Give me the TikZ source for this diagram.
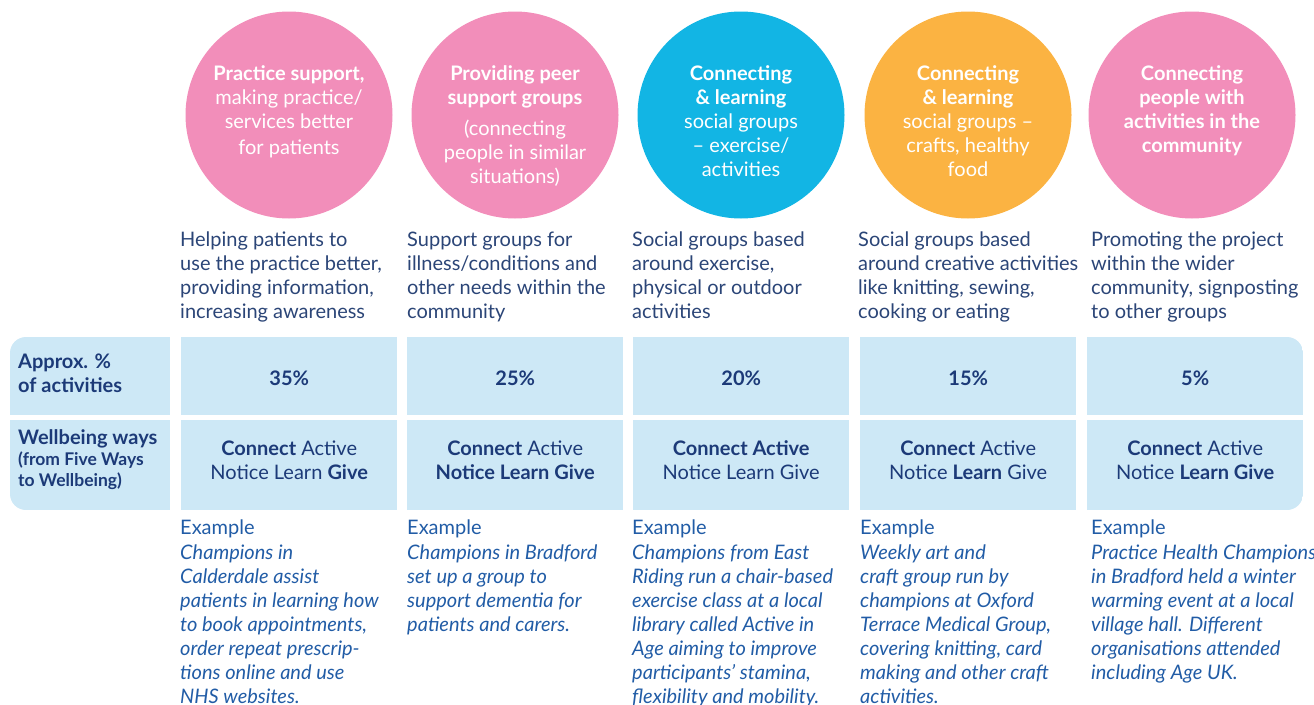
\documentclass[tikz,border=0pt]{standalone}
\usepackage{fontspec}
\setmainfont{Lato}
\definecolor{bubblepink}{HTML}{F28EBA}
\definecolor{bubblecyan}{HTML}{12B5E4}
\definecolor{bubbleorange}{HTML}{FBB342}
\definecolor{cellblue}{HTML}{CDE8F6}
\definecolor{navy}{HTML}{1C3A78}
\definecolor{slateblue}{HTML}{2B4577}
\definecolor{exampleblue}{HTML}{215CA6}
\newcommand{\bodysize}{\fontsize{20}{24}\selectfont}
\newcommand{\subsize}{\fontsize{17.5}{21}\selectfont}

\begin{document}
\begin{tikzpicture}[x=1pt, y=-1pt,
    bubble/.style={circle, minimum size=207pt, inner sep=0pt},
    bubbletext/.style={anchor=north, inner sep=0pt, align=center, text=white, font=\bodysize},
    desc/.style={anchor=north west, inner sep=0pt, align=left, text=slateblue, font=\bodysize},
    cell/.style={anchor=north west, fill=cellblue, minimum width=216pt, inner sep=0pt},
    rowlabel/.style={anchor=north west, inner sep=0pt, align=left, text=navy, font=\bodysize\bfseries},
    celltext/.style={inner sep=0pt, align=center, text=navy, font=\bodysize},
    exhead/.style={anchor=north west, inner sep=0pt, text=exampleblue, font=\bodysize},
    exbody/.style={anchor=north west, inner sep=0pt, align=left, text=exampleblue, font=\bodysize\itshape}]
    \useasboundingbox (0,0) rectangle (1314,704);

    % Bubbles
    \node[bubble, fill=bubblepink] (c1) at (289,115) {};
    \node[bubble, fill=bubblepink] (c2) at (515,115) {};
    \node[bubble, fill=bubblecyan] (c3) at (741,115) {};
    \node[bubble, fill=bubbleorange] (c4) at (968,115) {};
    \node[bubble, fill=bubblepink] (c5) at (1192,115) {};
    \node[bubbletext] (c1txt) at (289,65) {\textbf{Practice support,}\\ making practice/\\ services better\\[2pt] for patients};
    \node[bubbletext] (c2txt) at (515,65) {\textbf{Providing peer}\\ \textbf{support groups}\\[7pt] (connecting\\ people in similar\\ situations)};
    \node[bubbletext] (c3txt) at (741,65) {\textbf{Connecting}\\ \textbf{\& learning}\\ social groups\\ -- exercise/\\ activities};
    \node[bubbletext] (c4txt) at (968,65) {\textbf{Connecting}\\ \textbf{\& learning}\\ social groups --\\ crafts, healthy\\ food};
    \node[bubbletext] (c5txt) at (1192,65) {\textbf{Connecting}\\ \textbf{people with}\\ \textbf{activities in the}\\ \textbf{community}};

    % Descriptions
    \node[desc] (d1) at (180,232) {Helping patients to\\ use the practice better,\\ providing information,\\ increasing awareness};
    \node[desc] (d2) at (407,232) {Support groups for\\ illness/conditions and\\ other needs within the\\ community};
    \node[desc] (d3) at (632,232) {Social groups based\\ around exercise,\\ physical or outdoor\\ activities};
    \node[desc] (d4) at (858,232) {Social groups based\\ around creative activities\\ like knitting, sewing,\\ cooking or eating};
    \node[desc] (d5) at (1091,232) {Promoting the project\\ within the wider\\ community, signposting\\ to other groups};

    % Table cells
    \begin{scope}
        \clip[rounded corners=16pt] (10,337) rectangle (1303,510);
        \node[cell, minimum width=160pt, minimum height=78pt] (p0) at (10,337) {};
        \node[cell, minimum height=78pt] (p1) at (181,337) {};
        \node[cell, minimum height=78pt] (p2) at (407,337) {};
        \node[cell, minimum height=78pt] (p3) at (633,337) {};
        \node[cell, minimum height=78pt] (p4) at (860,337) {};
        \node[cell, minimum height=78pt] (p5) at (1087,337) {};
        \node[cell, minimum width=160pt, minimum height=90pt] (w0) at (10,420) {};
        \node[cell, minimum height=90pt] (w1) at (181,420) {};
        \node[cell, minimum height=90pt] (w2) at (407,420) {};
        \node[cell, minimum height=90pt] (w3) at (633,420) {};
        \node[cell, minimum height=90pt] (w4) at (860,420) {};
        \node[cell, minimum height=90pt] (w5) at (1087,420) {};
    \end{scope}

    % Table texts
    \node[rowlabel] (p0txt) at (18,354) {Approx. \%\\ of activities};
    \node[rowlabel] (w0txt) at (18,429) {Wellbeing ways\\[-3pt] {\subsize (from Five Ways}\\[-3pt] {\subsize to Wellbeing)}};
    \node[celltext, font=\bodysize\bfseries, yshift=-2pt] (p1txt) at (p1) {35\%};
    \node[celltext, font=\bodysize\bfseries, yshift=-2pt] (p2txt) at (p2) {25\%};
    \node[celltext, font=\bodysize\bfseries, yshift=-2pt] (p3txt) at (p3) {20\%};
    \node[celltext, font=\bodysize\bfseries, yshift=-2pt] (p4txt) at (p4) {15\%};
    \node[celltext, font=\bodysize\bfseries, yshift=-2pt] (p5txt) at (p5) {5\%};
    \node[celltext, yshift=5pt] (w1txt) at (w1) {\textbf{Connect} Active\\ Notice Learn \textbf{Give}};
    \node[celltext, yshift=5pt] (w2txt) at (w2) {\textbf{Connect} Active\\ \textbf{Notice Learn Give}};
    \node[celltext, yshift=5pt] (w3txt) at (w3) {\textbf{Connect Active}\\ Notice Learn Give};
    \node[celltext, yshift=5pt] (w4txt) at (w4) {\textbf{Connect} Active\\ Notice \textbf{Learn} Give};
    \node[celltext, yshift=5pt] (w5txt) at (w5) {\textbf{Connect} Active\\ Notice \textbf{Learn Give}};

    % Examples
    \node[exhead] (e1) at (180,520) {Example};
    \node[exhead] (e2) at (407,520) {Example};
    \node[exhead] (e3) at (632,520) {Example};
    \node[exhead] (e4) at (860,520) {Example};
    \node[exhead] (e5) at (1091,520) {Example};
    \node[exbody] (e1txt) at (180,545) {Champions in\\ Calderdale assist\\ patients in learning how\\ to book appointments,\\ order repeat prescrip-\\ tions online and use\\ NHS websites.};
    \node[exbody] (e2txt) at (407,545) {Champions in Bradford\\ set up a group to\\ support dementia for\\ patients and carers.};
    \node[exbody] (e3txt) at (632,545) {Champions from East\\ Riding run a chair-based\\ exercise class at a local\\ library called Active in\\ Age aiming to improve\\ participants’ stamina,\\ flexibility and mobility.};
    \node[exbody] (e4txt) at (860,545) {Weekly art and\\ craft group run by\\ champions at Oxford\\ Terrace Medical Group,\\ covering knitting, card\\ making and other craft\\ activities.};
    \node[exbody] (e5txt) at (1091,545) {Practice Health Champions\\ in Bradford held a winter\\ warming event at a local\\ village hall. Different\\ organisations attended\\ including Age UK.};
\end{tikzpicture}
\end{document}
